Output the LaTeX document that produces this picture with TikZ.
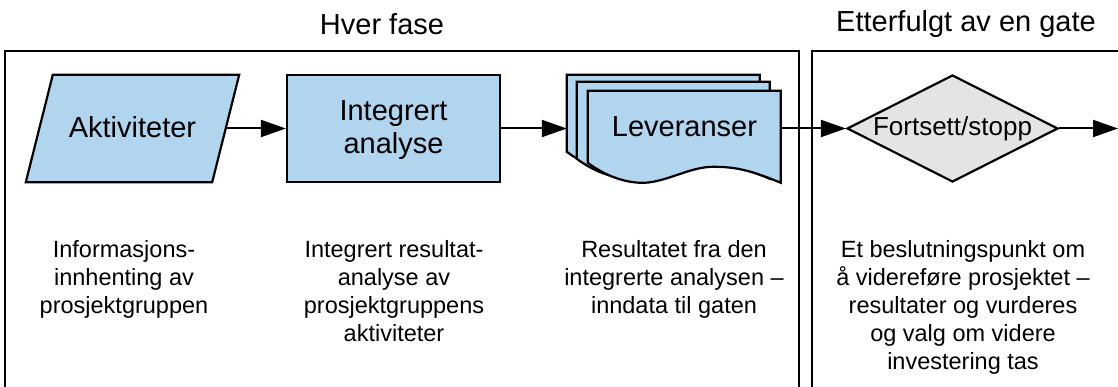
\documentclass[tikz,border=0pt]{standalone}
\usepackage{fontspec}
\setmainfont{Liberation Sans}
\usetikzlibrary{arrows.meta,shapes.geometric,calc,backgrounds}

\definecolor{boxblue}{HTML}{B1D5EF}
\definecolor{gategray}{HTML}{E4E4E4}

% Outline of one "document" sheet: top-left at the origin, width 193,
% left edge of height #1, wavy bottom edge ending 20 lower on the right.
\newcommand\docoutline[1]{(0,0) -- (193,0) -- (193,#1+20)
  .. controls (162,#1+7) and (147,#1+4) .. (125,#1+4)
  .. controls (102,#1+4) and (77,#1+20) .. (55,#1+20)
  .. controls (32,#1+20) and (12,#1+9) .. (0,#1) -- cycle}

\begin{document}
\begin{tikzpicture}[x=1pt,y=-1pt,
  frame/.style={line width=2.6pt},
  shapeline/.style={draw=black,line width=2.2pt},
  flow/.style={line width=2pt,-{Triangle[length=25pt,width=17pt]}},
  bigtext/.style={font=\fontsize{29}{33}\selectfont},
  slot/.style={bigtext,inner sep=0pt,align=center,text depth=0.25em},
  procbox/.style={slot,shapeline,fill=boxblue,minimum width=213pt,minimum height=107pt},
  gatebox/.style={shape=diamond,shapeline,fill=gategray,inner sep=0pt,
    minimum width=211pt,minimum height=107pt},
  gatetext/.style={font=\fontsize{26}{30}\selectfont,inner sep=0pt},
  heading/.style={bigtext,inner sep=0pt,anchor=base},
  note/.style={font=\fontsize{23.5}{28}\selectfont,inner sep=0pt,
    anchor=north,align=center}
]
\useasboundingbox (0,0) rectangle (1118,387);

% the two frames
\draw[frame] (5,387) -- (5,51) -- (799,51) -- (799,387);
\draw[frame] (812,387) -- (812,51) -- (1118,51);

% headings
\node[heading] (phase) at (382,35) {Hver fase};
\node[heading] (gatehead) at (966,32) {Etterfulgt av en gate};

% process steps
\node[slot,minimum width=186pt,minimum height=107pt] (akt) at (132.5,128.5) {Aktiviteter};
\node[procbox] (int) at (393.5,128.5) {Integrert\\analyse};
\node[slot,minimum width=214pt,minimum height=107pt] (levstack) at (674,128.5) {};
\node[slot] (lev) at (684.5,128) {Leveranser};
\node[gatebox] (gate) at (952.5,128.5) {};
\node[gatetext] (gatelabel) at (gate) {Fortsett/stopp};
\coordinate (exit) at (1118,128.5);

% shapes behind the texts: input parallelogram and stacked documents
\begin{scope}[on background layer]
  \draw[shapeline,fill=boxblue]
    ($(akt.north west)+(13.5,0)$) -- ($(akt.north east)+(13.5,0)$)
    -- ($(akt.south east)+(-13.5,0)$) -- ($(akt.south west)+(-13.5,0)$) -- cycle;
  \foreach \dx/\dy/\h in {0/0/77, 10/7/77, 21/16/72} {
    \draw[shapeline,fill=boxblue,shift={($(levstack.north west)+(\dx,\dy)$)}]
      \docoutline{\h};
  }
\end{scope}

% flow
\draw[flow] (akt) -- (int);
\draw[flow] (int) -- (levstack);
\draw[flow] (levstack) -- (gate);
\draw[flow] (gate) -- (exit);

% descriptions
\node[note] (n1) at (124,240) {Informasjons-\\innhenting av\\prosjektgruppen};
\node[note] (n2) at (394,240) {Integrert resultat-\\analyse av\\prosjektgruppens\\aktiviteter};
\node[note] (n3) at (674,240) {Resultatet fra den\\integrerte analysen –\\inndata til gaten};
\node[note] (n4) at (963,240) {Et beslutningspunkt om\\å videreføre prosjektet –\\resultater og vurderes\\og valg om videre\\investering tas};
\end{tikzpicture}
\end{document}
